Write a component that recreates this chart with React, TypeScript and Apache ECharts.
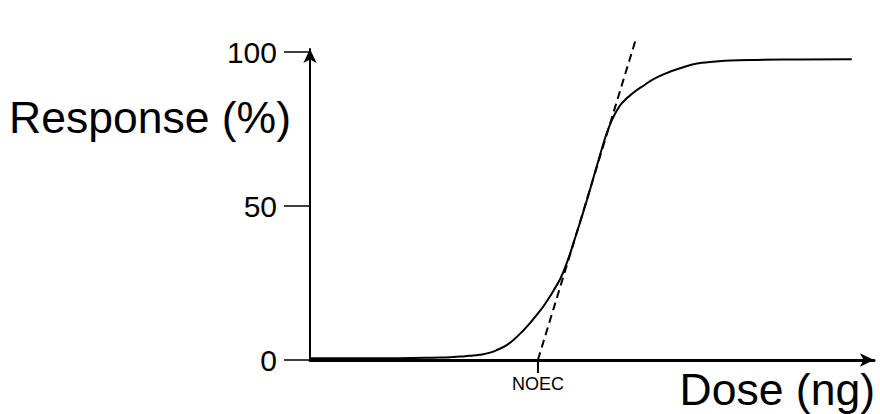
import React, { useEffect, useRef } from "react";
import * as echarts from "echarts";

// Dose–response curve (dose in arbitrary units along the x axis, response in %)
const doseValues = [
  0, 15.8, 22.8, 24.6, 26.3, 28.1, 29.8, 31.6, 33.0, 34.6, 36.0, 37.4, 38.8, 40.4, 41.4, 42.7, 44.4,
  46.7, 48.6, 50.4, 51.8, 52.5, 53.2, 53.9, 54.8, 56.7, 58.8, 60.9, 65.5, 70.2, 77.2, 86.0, 95.1,
];
const responseValues = [
  0.6, 0.6, 0.8, 0.9, 1.1, 1.35, 1.7, 2.4, 3.4, 4.9, 7.0, 9.5, 12.4, 16.0, 18.6, 22.4, 28.3,
  40.6, 51.9, 63.3, 72.1, 75.7, 78.7, 81.1, 83.5, 86.7, 89.4, 91.8, 95.1, 96.8, 97.4, 97.6, 97.7,
];

// Tangent (dashed) line through the inflection point
const tangentDose = [40, 57.2];
const tangentResponse = [0, 104.2];

const yTicks = [0, 50, 100];
const noecDose = [40];
const noecLabel = "NOEC";
const yTitle = "Response (%)";
const xTitle = "Dose (ng)";

const FONT = "'Liberation Sans', Arial, sans-serif";

export default function App() {
  const ref = useRef<HTMLDivElement>(null);

  useEffect(() => {
    if (!ref.current) return;
    const chart = echarts.init(ref.current, null, { renderer: "svg" });
    const curve = doseValues.map((d, i) => [d, responseValues[i]]);
    const tangent = tangentDose.map((d, i) => [d, tangentResponse[i]]);
    chart.setOption({
      animation: false,
      backgroundColor: "#ffffff",
      grid: { left: 310, right: 6, top: 49, bottom: 54, containLabel: false },
      xAxis: {
        type: "value",
        min: 0,
        max: 99,
        splitLine: { show: false },
        axisLine: {
          show: true,
          symbol: ["none", "arrow"],
          symbolSize: [10, 14],
          lineStyle: { color: "#000", width: 3 },
        },
        axisTick: {
          show: true,
          customValues: noecDose,
          length: 13,
          lineStyle: { color: "#000", width: 2 },
        },
        axisLabel: {
          show: true,
          customValues: noecDose,
          formatter: () => noecLabel,
          color: "#000",
          fontSize: 18,
          fontFamily: FONT,
          margin: 15,
        },
      },
      yAxis: {
        type: "value",
        min: 0,
        max: 101,
        splitLine: { show: false },
        axisLine: {
          show: true,
          symbol: ["none", "arrow"],
          symbolSize: [10, 14],
          lineStyle: { color: "#000", width: 2 },
        },
        axisTick: {
          show: true,
          customValues: yTicks,
          length: 26,
          lineStyle: { color: "#000", width: 1.5 },
        },
        axisLabel: {
          show: true,
          customValues: yTicks,
          color: "#000",
          fontSize: 30,
          fontFamily: FONT,
          margin: 33,
        },
      },
      graphic: [
        {
          type: "text",
          left: 9,
          top: 95,
          style: { text: yTitle, fontSize: 44.5, fontFamily: FONT, fill: "#000" },
        },
        {
          type: "text",
          right: 5,
          top: 367,
          style: { text: xTitle, fontSize: 44.5, fontFamily: FONT, fill: "#000" },
        },
      ],
      series: [
        {
          type: "line",
          data: curve,
          smooth: 0.5,
          showSymbol: false,
          lineStyle: { color: "#000", width: 2 },
        },
        {
          type: "line",
          data: tangent,
          clip: false,
          showSymbol: false,
          lineStyle: { color: "#000", width: 2, type: [8, 5] },
        },
      ],
    });
    return () => chart.dispose();
  }, []);

  return (
    <div
      ref={ref}
      style={{ position: "fixed", left: 0, top: 0, width: 880, height: 414, background: "#fff" }}
    />
  );
}
